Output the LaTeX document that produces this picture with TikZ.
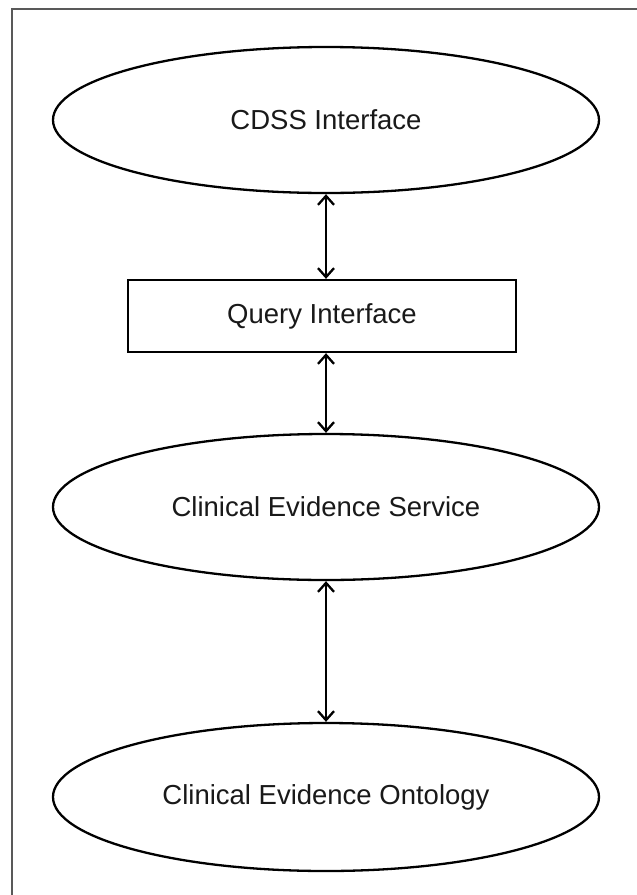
\documentclass[tikz,border=0pt]{standalone}
\usepackage{fontspec}
\setmainfont{Liberation Sans}
\usetikzlibrary{shapes.geometric,arrows.meta}
\tikzset{
  oval/.style={ellipse, draw=black, line width=2.3pt, minimum width=546pt, minimum height=146pt, inner sep=0pt, font=\fontsize{27.5}{31}\selectfont, text=black!90},
  boxnode/.style={rectangle, draw=black, line width=2.3pt, minimum width=388pt, minimum height=72pt, inner sep=0pt, font=\fontsize{27.5}{31}\selectfont, text=black!90},
  link/.style={line width=2.3pt, {Straight Barb[length=9pt,width=16pt,line width=2.3pt]}-{Straight Barb[length=9pt,width=16pt,line width=2.3pt]}},
  frame/.style={draw=black!65, line width=2pt}
}
\begin{document}
\begin{tikzpicture}[x=1pt,y=-1pt]
\useasboundingbox (0,0) rectangle (637,895);
\draw[frame] (637,9) -- (12,9) -- (12,895);
\node[oval] (cdss) at (326,120) {CDSS Interface};
\node[boxnode] (query) at (322,316) {Query Interface};
\node[oval] (ces) at (326,507) {Clinical Evidence Service};
\node[oval, minimum height=148pt] (ceo) at (326,797) {Clinical Evidence Ontology};
\draw[link] (cdss.south) -- (cdss.south |- query.north);
\draw[link] (ces.north |- query.south) -- (ces.north);
\draw[link] (ces.south) -- (ceo.north);
\end{tikzpicture}
\end{document}
